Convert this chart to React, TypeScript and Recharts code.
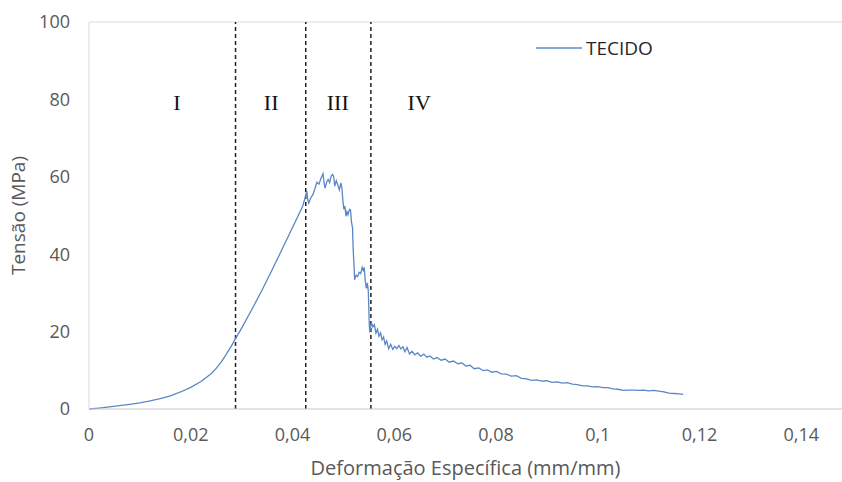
import {
  LineChart,
  Line,
  XAxis,
  YAxis,
  ReferenceLine,
  ReferenceDot,
} from 'recharts';

// Ensaio de tração - tecido (deformação em mm/mm, tensão em MPa)
const STRAIN = [
  0, 0.002, 0.004, 0.006, 0.008, 0.01, 0.012, 0.014, 0.016, 0.018,
  0.02, 0.022, 0.024, 0.025, 0.026, 0.027, 0.028, 0.0288, 0.03, 0.032, 0.034, 0.036,
  0.038, 0.04, 0.042, 0.0426, 0.0428, 0.043, 0.0432, 0.0436, 0.044, 0.0444,
  0.0448, 0.0452, 0.0456, 0.046, 0.0462, 0.0464, 0.0467, 0.047, 0.0473, 0.0476,
  0.0479, 0.0481, 0.0483, 0.0486, 0.0489, 0.0492, 0.0495, 0.0497, 0.0499, 0.0501,
  0.0503, 0.0505, 0.0507, 0.0509, 0.0512, 0.0514, 0.0516, 0.0518, 0.0519, 0.052,
  0.0521, 0.0522, 0.0525, 0.0528, 0.0531, 0.0534, 0.0537, 0.0539, 0.0541, 0.0543,
  0.0545, 0.0547, 0.0549, 0.055, 0.0551, 0.0552, 0.0555, 0.0558, 0.0561, 0.0564,
  0.0567, 0.057, 0.0573, 0.0576, 0.0579, 0.0582, 0.0585, 0.0589, 0.0593, 0.0597,
  0.0601, 0.0605, 0.0609, 0.0613, 0.0617, 0.0621, 0.0625, 0.063, 0.0635, 0.064,
  0.0646, 0.0652, 0.0658, 0.0664, 0.067, 0.0677, 0.0684, 0.0692, 0.07, 0.0708,
  0.0716, 0.0725, 0.0733, 0.0741, 0.0749, 0.0757, 0.0766, 0.0775, 0.0783, 0.0792,
  0.0801, 0.081, 0.082, 0.083, 0.084, 0.085, 0.086, 0.087, 0.088, 0.089,
  0.09, 0.091, 0.092, 0.093, 0.094, 0.095, 0.096, 0.097, 0.098, 0.099,
  0.1, 0.101, 0.102, 0.103, 0.104, 0.105, 0.106, 0.107, 0.108, 0.109,
  0.11, 0.111, 0.112, 0.113, 0.114, 0.115, 0.116, 0.1168,
];

const STRESS = [
  0, 0.25, 0.55, 0.85, 1.2, 1.6, 2.1, 2.7, 3.4, 4.4,
  5.6, 7.1, 9.1, 10.5, 12.2, 14.2, 16.3, 18.2, 20.9, 25.7, 30.7, 36.0,
  41.4, 46.9, 52.4, 55.2, 56.4, 54.0, 53.2, 54.6, 55.4, 56.9,
  58.6, 58.1, 59.6, 60.8, 58.4, 57.1, 58.6, 59.3, 58.5, 60.2,
  60.6, 60.0, 57.6, 59.0, 57.9, 56.6, 58.4, 57.2, 53.8, 51.6,
  52.4, 49.8, 51.0, 50.2, 51.6, 51.4, 48.2, 46.8, 42.0, 39.2,
  37.0, 33.4, 34.6, 34.2, 35.3, 35.0, 36.6, 35.8, 36.6, 33.0,
  31.2, 32.6, 30.4, 26.0, 21.4, 19.8, 22.4, 21.2, 21.8, 19.6,
  20.6, 18.8, 19.7, 17.9, 18.6, 16.7, 17.6, 15.6, 16.7, 15.4,
  16.2, 15.6, 16.4, 15.5, 16.1, 14.8, 15.9, 14.2, 14.9, 14.0,
  14.5, 13.6, 14.2, 13.4, 13.7, 12.9, 13.3, 12.6, 12.9, 12.1,
  12.4, 11.7, 11.9, 11.1, 11.3, 10.4, 10.6, 9.9, 10.1, 9.5,
  9.7, 9.1, 9.0, 8.5, 8.6, 7.9, 7.8, 7.4, 7.5, 7.2,
  7.3, 6.9, 7.0, 6.7, 6.8, 6.4, 6.3, 6.0, 6.0, 5.7,
  5.8, 5.5, 5.5, 5.2, 5.1, 4.8, 4.9, 4.9, 4.8, 4.9,
  4.7, 4.8, 4.6, 4.4, 4.1, 4.0, 3.9, 3.8,
];

const X_TICKS = [0, 0.02, 0.04, 0.06, 0.08, 0.1, 0.12, 0.14];
const Y_TICKS = [0, 20, 40, 60, 80, 100];

// limites entre as regiões I-IV
const REGION_BOUNDS = [0.0288, 0.0426, 0.0554];
const REGION_LABELS = ['I', 'II', 'III', 'IV'];
const REGION_LABEL_X = [0.0173, 0.0358, 0.0489, 0.0649];
const REGION_LABEL_Y = 79.3;

const SERIES_NAME = 'TECIDO';

const data = STRAIN.map((x, i) => ({ strain: x, stress: STRESS[i] }));

const FONT = '"Open Sans", sans-serif';
const AXIS_TEXT = '#595959';
const LINE_COLOR = '#5B87C6';

const fmtComma = (v: number) => String(v).replace('.', ',');

const YTitle = ({ viewBox }: any) => {
  const cx = 18;
  const cy = viewBox.y + viewBox.height / 2;
  return (
    <text
      x={cx}
      y={cy}
      transform={`rotate(-90, ${cx}, ${cy})`}
      textAnchor="middle"
      dominantBaseline="central"
      fill={AXIS_TEXT}
      fontFamily={FONT}
      fontSize={19}
    >
      Tensão (MPa)
    </text>
  );
};

const XTitle = ({ viewBox }: any) => (
  <text
    x={viewBox.x + viewBox.width / 2}
    y={467}
    textAnchor="middle"
    dominantBaseline="central"
    fill={AXIS_TEXT}
    fontFamily={FONT}
    fontSize={20}
  >
    Deformação Específica (mm/mm)
  </text>
);

export default function App() {
  return (
    <div style={{ position: 'absolute', left: 0, top: 0, width: 842, height: 482, overflow: 'hidden', background: '#fff' }}>
      <LineChart width={842} height={482} data={data} margin={{ top: 22, right: 0, bottom: 0, left: 0 }}>
        <XAxis
          type="number"
          dataKey="strain"
          domain={[0, 0.148]}
          allowDataOverflow
          ticks={X_TICKS}
          tickFormatter={fmtComma}
          height={73}
          stroke="#C8C8C8"
          tickLine={false}
          tickSize={0}
          tickMargin={19}
          tick={{ fill: AXIS_TEXT, fontFamily: FONT, fontSize: 18 }}
          label={{ content: XTitle }}
        />
        <YAxis
          type="number"
          domain={[0, 100]}
          ticks={Y_TICKS}
          width={89}
          stroke="#D9D9D9"
          tickLine={false}
          tickSize={0}
          tickMargin={19}
          tick={{ fill: AXIS_TEXT, fontFamily: FONT, fontSize: 18 }}
          label={{ content: YTitle }}
        />
        <ReferenceLine y={100} stroke="#D9D9D9" />
        {REGION_BOUNDS.map((b) => (
          <ReferenceLine key={b} x={b} stroke="#222" strokeWidth={1.5} strokeDasharray="4 3" />
        ))}
        {REGION_LABELS.map((lbl, i) => (
          <ReferenceDot
            key={lbl}
            x={REGION_LABEL_X[i]}
            y={REGION_LABEL_Y}
            r={0}
            fill="none"
            stroke="none"
            label={{ value: lbl, position: 'center', fill: '#111', fontFamily: '"Liberation Serif", serif', fontSize: 22 }}
          />
        ))}
        <Line
          type="linear"
          dataKey="stress"
          name={SERIES_NAME}
          stroke={LINE_COLOR}
          strokeWidth={1.3}
          dot={false}
          isAnimationActive={false}
        />
      </LineChart>
      <div
        style={{
          position: 'absolute',
          left: 536,
          top: 35,
          display: 'flex',
          alignItems: 'center',
          fontFamily: FONT,
          fontSize: 19,
          color: '#262626',
        }}
      >
        <svg width={46} height={4} style={{ marginRight: 4 }}>
          <line x1={0} y1={2} x2={46} y2={2} stroke={LINE_COLOR} strokeWidth={1.3} />
        </svg>
        <span>{SERIES_NAME}</span>
      </div>
    </div>
  );
}
